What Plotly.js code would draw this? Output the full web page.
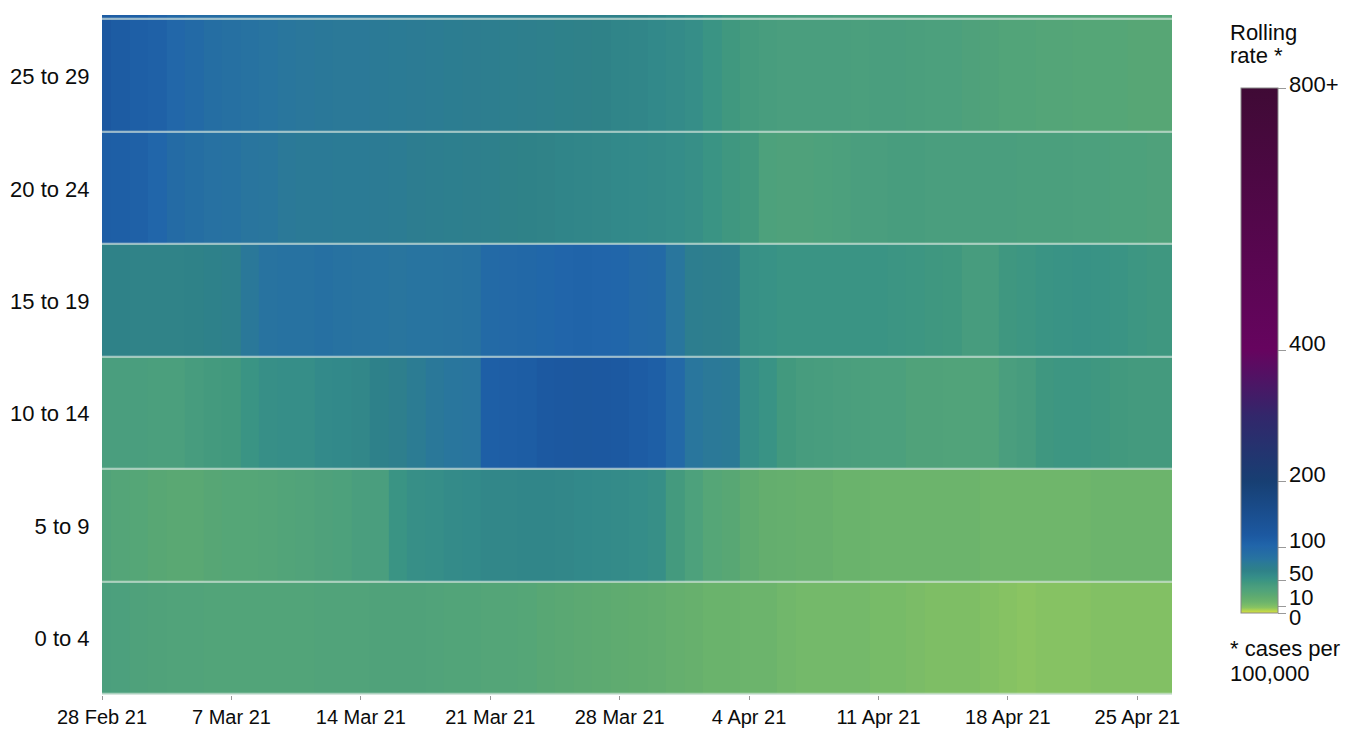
<!DOCTYPE html>
<html><head><meta charset="utf-8">
<script src="https://cdn.plot.ly/plotly-3.0.1.min.js"></script>
<style>html,body{margin:0;padding:0;background:#fff}#chart{width:1349px;height:729px}</style>
</head><body><div id="chart"></div>
<script>
// Age bands (bottom to top); the top band is only partly visible in the view
const ageBands = ['0 to 4','5 to 9','10 to 14','15 to 19','20 to 24','25 to 29','30 to 34'];

// Daily rolling rates per 100,000, 28 Feb 21 to 27 Apr 21
const rate0to4   = [39,38,36,35,34,34,33,33,33,33, 33,33,34,34,34,35,35,35,34,33, 33,32,32,31,29,28,27,26,25,24, 23,21,20,18,18,17,17,15,14,14, 14,14,13,13,12,11,11,11,10,9, 8,9,9,9,10,10,10,10,10];
const rate5to9   = [34,32,31,29,28,28,30,31,31,32, 33,34,36,37,40,40,50,54,55,57, 58,60,60,61,61,60,59,58,57,56, 54,44,37,31,29,25,22,21,20,20, 18,18,17,17,17,17,17,17,16,16, 16,16,16,16,17,17,17,17,17];
const rate10to14 = [40,40,40,39,39,42,44,45,50,54, 55,55,58,59,60,66,68,73,78,80, 81,110,112,113,118,120,121,120,118,114, 110,97,80,77,76,55,51,45,42,41, 40,39,38,38,35,35,34,34,34,40, 42,47,48,48,47,45,44,44,44];
const rate15to19 = [64,64,63,63,63,64,66,67,78,83, 84,85,87,84,83,82,81,82,82,83, 84,95,97,98,101,103,104,103,102,97, 95,80,70,68,67,53,52,50,50,50, 50,50,50,49,48,47,46,42,42,47, 48,50,51,52,51,50,48,47,47];
const rate20to24 = [112,110,108,102,94,90,86,85,81,80, 77,76,76,75,75,74,73,71,70,69, 68,67,65,64,63,62,61,60,59,58, 57,56,54,50,47,45,37,36,36,37, 38,40,40,41,41,40,40,40,40,40, 39,39,39,38,38,37,37,36,36];
const rate25to29 = [120,115,110,108,100,95,90,87,84,82, 80,79,78,77,77,76,75,74,73,72, 71,70,69,68,67,66,65,64,62,61, 59,57,55,50,46,43,41,40,40,40, 40,39,40,40,39,38,38,36,35,33, 33,32,32,31,31,31,30,30,30];
const rate30to34 = [115,112,110,106,98,94,92,90,88,86, 84,83,82,81,80,79,78,77,76,75, 74,73,72,71,70,69,68,67,66,64, 62,59,56,52,48,45,43,42,41,41, 40,40,40,39,39,38,38,37,36,35, 34,34,33,33,32,32,31,31,31];

// Colour bar ticks
const barTickVals = [0, 10, 50, 100, 200, 400, 800];
const barTickText = ['0', '10', '50', '100', '200', '400', '800+'];

const firstDay = Date.UTC(2021, 1, 28);
const dates = rate0to4.map((_, i) => new Date(firstDay + i * 864e5).toISOString().slice(0, 10));

const zMax = 800;
const stops = [
  [0,'#d9e23c'],[8,'#8ac462'],[11,'#7ebe65'],[14,'#74b96a'],[17,'#6cb46c'],[20,'#67b06d'],
  [24,'#60ac6f'],[28,'#5aa873'],[33,'#52a479'],[40,'#4a9e7e'],[45,'#42997e'],[50,'#3a9484'],
  [58,'#338a8a'],[64,'#2f8288'],[76,'#2b7a96'],[82,'#2874a0'],[96,'#2369a6'],[102,'#2166aa'],
  [110,'#1e5fa6'],[120,'#1c58a0'],[200,'#173f73'],[300,'#32276b'],[400,'#66045f'],[800,'#3f0a35']
];
const colorscale = stops.map(s => [s[0] / zMax, s[1]]);

const fontFamily = '"Liberation Sans", Arial, sans-serif';
const font = {family: fontFamily, size: 22, color: '#0b0c0c'};
const xFont = {family: fontFamily, size: 20, color: '#0b0c0c'};

// plot area in pixels: x 102..1172, y 15..695
const plotTop = 15, plotBottom = 695, plotLeft = 102, plotW = 1070, plotH = plotBottom - plotTop;
const px = x => (x - plotLeft) / plotW;
const py = y => (plotBottom - y) / plotH;

// colour bar placement (pixels)
const barBottom = 613, barLen = 525;
const barFrac = v => py(barBottom) + (v / zMax) * (barLen / plotH);

const trace = {
  type: 'heatmap',
  x: dates,
  y: ageBands,
  z: [rate0to4, rate5to9, rate10to14, rate15to19, rate20to24, rate25to29, rate30to34],
  zmin: 0, zmax: zMax,
  colorscale: colorscale,
  ygap: 1.5,
  hoverinfo: 'skip',
  colorbar: {
    thickness: 37, thicknessmode: 'pixels',
    len: barLen, lenmode: 'pixels',
    x: px(1241), xref: 'paper', xanchor: 'left', xpad: 0,
    y: py(barBottom), yref: 'paper', yanchor: 'bottom', ypad: 0,
    outlinewidth: 1, outlinecolor: '#888',
    tickmode: 'array', tickvals: barTickVals, ticktext: barTickVals.map(() => ''),
    ticks: 'outside', ticklen: 8, tickcolor: '#999', tickwidth: 1,
    tickfont: font
  }
};

const ann = (text, x, y) => ({text: text, xref: 'paper', yref: 'paper', x: px(x), y: py(y),
  xanchor: 'left', yanchor: 'middle', align: 'left', showarrow: false, font: font});

// colour bar tick labels sit just above their tick marks, as in the original
const labelShift = {0: -4, 10: 9, 800: 3};
const barLabels = barTickVals.map((v, i) => ({
  text: barTickText[i], xref: 'paper', yref: 'paper', x: px(1288), y: barFrac(v),
  xanchor: 'left', yanchor: 'middle', yshift: (v in labelShift) ? labelShift[v] : 7,
  borderpad: 0, showarrow: false, font: font
}));

const layout = {
  width: 1349, height: 729,
  margin: {l: plotLeft, r: 1349 - plotLeft - plotW, t: plotTop, b: 729 - plotBottom},
  paper_bgcolor: '#ffffff',
  plot_bgcolor: '#d6e6de',
  font: font,
  xaxis: {
    type: 'date',
    range: ['2021-02-28', '2021-04-26 21:00'],
    tick0: '2021-02-28', dtick: 7 * 864e5,
    tickformat: '%-d %b %y',
    ticks: 'outside', ticklen: 4, tickcolor: '#999', tickwidth: 1,
    ticklabelstandoff: 0,
    showgrid: false, zeroline: false, showline: false,
    tickfont: xFont
  },
  yaxis: {
    type: 'category',
    categoryarray: ageBands,
    range: [-0.5, 5.545],
    ticks: 'outside', ticklen: 7, tickcolor: 'rgba(0,0,0,0)',
    showgrid: false, zeroline: false, showline: false,
    tickfont: font
  },
  annotations: [
    ann('Rolling', 1228, 32),
    ann('rate *', 1228, 55),
    ann('* cases per', 1228, 648),
    ann('100,000', 1228, 673)
  ].concat(barLabels)
};

Plotly.newPlot('chart', [trace], layout, {displayModeBar: false, staticPlot: true});
</script>
</body></html>
